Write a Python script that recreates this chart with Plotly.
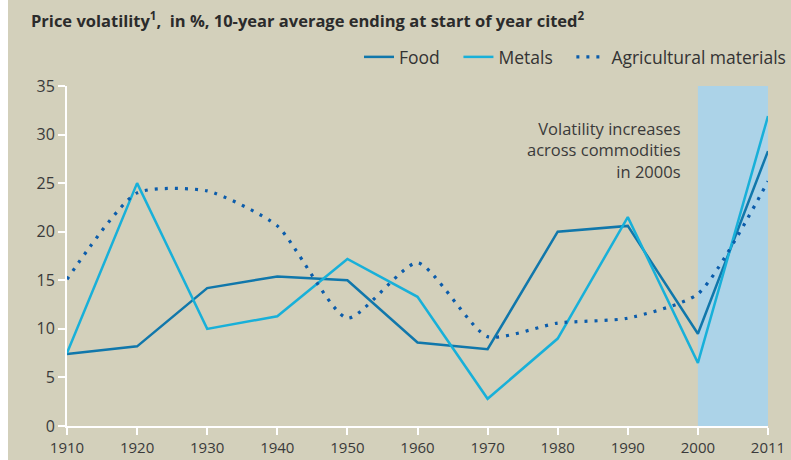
import plotly.graph_objects as go

years = ["1910", "1920", "1930", "1940", "1950", "1960", "1970", "1980", "1990", "2000", "2011"]
food = [7.4, 8.2, 14.2, 15.4, 15.0, 8.6, 7.9, 20.0, 20.6, 9.5, 28.3]
metals = [7.5, 25.0, 10.0, 11.3, 17.2, 13.3, 2.8, 9.0, 21.5, 6.5, 31.9]
agri = [15.1, 24.0, 24.2, 20.6, 11.1, 16.8, 9.2, 10.6, 11.1, 13.6, 25.2]
y_ticks = [0, 5, 10, 15, 20, 25, 30, 35]
note_text = "Volatility increases<br>across commodities<br>in 2000s"

xpos = list(range(len(years)))
BG = "#d3d0bb"
FONT = "Open Sans, Lato, sans-serif"
OFF = 8  # white page strip on the left
W, H = 791 - OFF, 460
L, R, T, B = 67 - OFF, 23, 86, 34
PW, PH = W - L - R, H - T - B
PAD = "\u00a0" * 3

fig = go.Figure()
fig.add_trace(go.Scatter(x=xpos, y=food, mode="lines", name="Food" + PAD,
                         line=dict(color="#1077ab", width=2.5)))
fig.add_trace(go.Scatter(x=xpos, y=metals, mode="lines", name="Metals" + PAD,
                         line=dict(color="#18b0d9", width=2.5)))
fig.add_trace(go.Scatter(x=xpos, y=agri, mode="lines", name="Agricultural materials",
                         line=dict(color="#0b5cab", width=3.2, dash="3px,7px",
                                   shape="spline", smoothing=0.6)))

fig.add_shape(type="rect", xref="x", yref="y", x0=9, x1=10, y0=0, y1=35,
              fillcolor="#acd3e8", line=dict(width=0), layer="below")

fig.add_annotation(xref="paper", yref="paper", x=(683 - OFF - L) / PW, y=(H - B - 150) / PH,
                   xanchor="right", yanchor="middle", align="right", showarrow=False,
                   text=note_text, font=dict(family=FONT, size=16.5, color="#3a3a3a"))

fig.update_layout(
    width=W, height=H,
    paper_bgcolor=BG, plot_bgcolor=BG,
    margin=dict(l=L, r=R, t=T, b=B, autoexpand=False),
    title=dict(text="Price volatility<sup>1</sup>,  in %, 10-year average ending at start of year cited<sup>2</sup>",
               xref="container", yref="container", x=(31 - OFF) / W, xanchor="left",
               y=1 - 21 / H, yanchor="middle",
               font=dict(family=FONT, size=16.5, color="#2b2b2b", weight="bold")),
    showlegend=True,
    legend=dict(orientation="h", xref="container", yref="container",
                x=1.0, xanchor="right", y=1 - 57 / H, yanchor="middle",
                bgcolor="rgba(0,0,0,0)", font=dict(family=FONT, size=17.5, color="#333333"),
                tracegroupgap=0),
    font=dict(family=FONT, size=15, color="#444444"),
)
fig.update_xaxes(range=[0, 10], tickvals=xpos, ticktext=years, showgrid=False, zeroline=False,
                 showline=True, linecolor="white", linewidth=2, ticks="outside",
                 tickcolor="white", ticklen=7, tickwidth=2,
                 tickfont=dict(family=FONT, size=15, color="#3a3a3a"))
fig.update_yaxes(range=[0, 35], tickvals=y_ticks, showgrid=False, zeroline=False,
                 showline=True, linecolor="white", linewidth=2, ticks="outside",
                 tickcolor="white", ticklen=7, tickwidth=2,
                 tickfont=dict(family=FONT, size=16, color="#3a3a3a"))

fig.write_html("out.html", config={"displayModeBar": False},
               post_script="document.body.style.margin='0 0 0 8px';document.body.style.background='white';")
